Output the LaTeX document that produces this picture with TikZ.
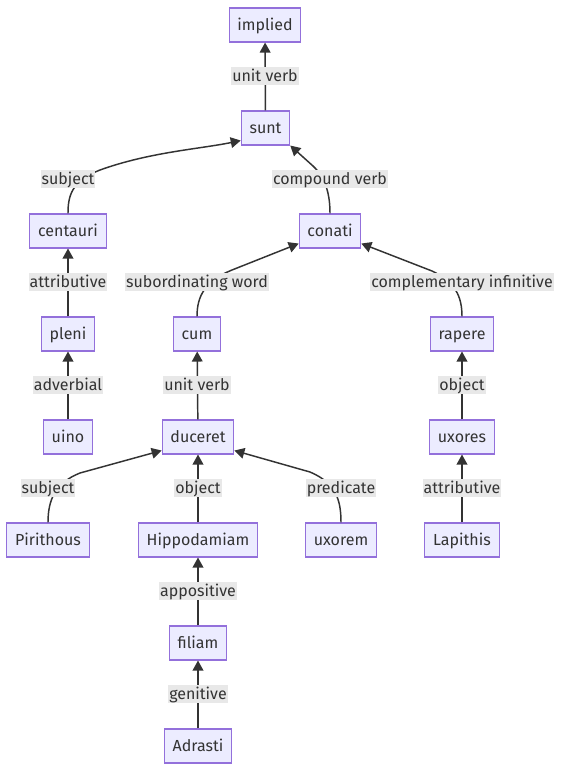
\documentclass[tikz,border=0pt]{standalone}
\usepackage{fontspec}
\setmainfont{Fira Sans}
\usetikzlibrary{arrows.meta,calc}
\definecolor{nfill}{HTML}{ECECFF}
\definecolor{ndraw}{HTML}{9370DB}
\definecolor{lfill}{HTML}{E8E8E8}
\definecolor{tcol}{HTML}{333333}
\tikzset{
  box/.style={draw=ndraw, fill=nfill, line width=0.8pt, minimum height=25.5pt, inner xsep=6.2pt, inner ysep=0pt, text height=10.5pt, text depth=2pt, text=tcol, font=\fontsize{12}{14}\selectfont},
  lab/.style={fill=lfill, inner xsep=0.6pt, inner ysep=0pt, minimum height=14pt, text height=10.5pt, text depth=2pt, text=tcol, font=\fontsize{12}{14}\selectfont},
  arr/.style={draw=tcol, line width=1.1pt, -{Triangle[length=7.5pt,width=8pt]}},
}
\begin{document}
\begin{tikzpicture}[x=0.75pt,y=-0.75pt]
\useasboundingbox[fill=white] (0,0) rectangle (561,771);
% nodes
\node[box] (imp) at (265,25) {implied};
\node[box] (sunt) at (265.5,128) {sunt};
\node[box] (cen) at (68,231) {centauri};
\node[box] (con) at (330,231) {conati};
\node[box] (ple) at (68,334) {pleni};
\node[box] (cum) at (197,334) {cum};
\node[box] (rap) at (462,334) {rapere};
\node[box] (uin) at (68,437) {uino};
\node[box] (duc) at (198,437) {duceret};
\node[box] (uxs) at (462,437) {uxores};
\node[box] (pir) at (48,540) {Pirithous};
\node[box] (hip) at (198,540) {Hippodamiam};
\node[box] (uxm) at (341,540) {uxorem};
\node[box] (lap) at (462,540) {Lapithis};
\node[box] (fil) at (198,643) {filiam};
\node[box] (adr) at (198,746) {Adrasti};
% edges
\draw[arr] (sunt) -- (imp);
\draw[arr] (cen.north) .. controls (68,195) and (72,181) .. (100,170) .. controls (150,152) and (200,149) .. ($(sunt.south west)+(0,-5)$);
\draw[arr] (con.north) .. controls (330,195) and (326,178) .. (313,166) -- (sunt.south east);
\draw[arr] (ple) -- (cen);
\draw[arr] (cum.north) .. controls (197,296) and (205,281) .. (232,270) -- ($(con.south west)+(0,-5)$);
\draw[arr] (rap.north) .. controls (462,296) and (455,282) .. (432,271) -- ($(con.south east)+(0,-5)$);
\draw[arr] (uin) -- (ple);
\draw[arr] (duc) -- (cum);
\draw[arr] (uxs) -- (rap);
\draw[arr] (pir.north) .. controls (48,500) and (55,483) .. (80,473) -- ($(duc.south west)+(0,-4)$);
\draw[arr] (hip) -- (duc);
\draw[arr] (uxm.north) .. controls (341,500) and (336,483) .. (310,472) -- ($(duc.south east)+(0,-4)$);
\draw[arr] (lap) -- (uxs);
\draw[arr] (fil) -- (hip);
\draw[arr] (adr) -- (fil);
% labels
\node[lab] (l1) at (265,76) {unit verb};
\node[lab] (l2) at (68,179) {subject};
\node[lab] (l3) at (330,179) {compound verb};
\node[lab] (l4) at (68,282) {attributive};
\node[lab] (l5) at (197,282) {subordinating word};
\node[lab] (l6) at (462,282) {complementary infinitive};
\node[lab] (l7) at (68,385) {adverbial};
\node[lab] (l8) at (197,385) {unit verb};
\node[lab] (l9) at (462,385) {object};
\node[lab] (l10) at (48,488) {subject};
\node[lab] (l11) at (198,488) {object};
\node[lab] (l12) at (341,488) {predicate};
\node[lab] (l13) at (462,488) {attributive};
\node[lab] (l14) at (198,591) {appositive};
\node[lab] (l15) at (198,694) {genitive};
\end{tikzpicture}
\end{document}
